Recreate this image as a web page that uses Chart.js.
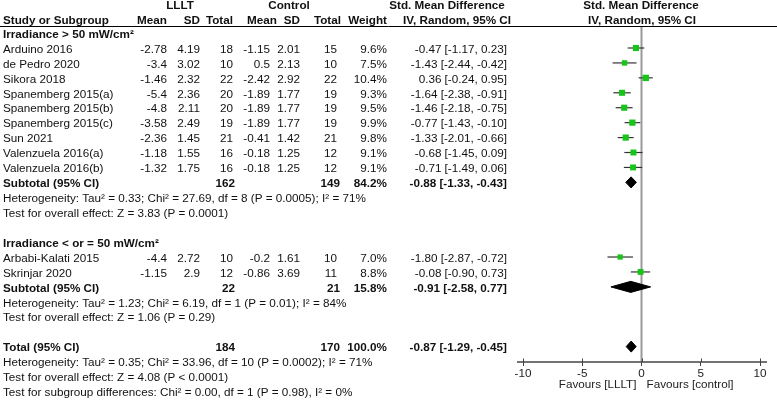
<!DOCTYPE html>
<html>
<head>
<meta charset="utf-8">
<script src="https://cdn.jsdelivr.net/npm/chart.js@4.4.0/dist/chart.umd.min.js"></script>
<style>
html, body { margin: 0; padding: 0; background: #fff; }
</style>
</head>
<body>
<canvas id="forest" width="777" height="400"></canvas>
<script>
// study level data
const studies = ['Arduino 2016', 'de Pedro 2020', 'Sikora 2018', 'Spanemberg 2015(a)', 'Spanemberg 2015(b)',
    'Spanemberg 2015(c)', 'Sun 2021', 'Valenzuela 2016(a)', 'Valenzuela 2016(b)', 'Arbabi-Kalati 2015', 'Skrinjar 2020'];
const studyRows = [0, 1, 2, 3, 4, 5, 6, 7, 8, 14, 15];
const llltMean = ['-2.78', '-3.4', '-1.46', '-5.4', '-4.8', '-3.58', '-2.36', '-1.18', '-1.32', '-4.4', '-1.15'];
const llltSD = ['4.19', '3.02', '2.32', '2.36', '2.11', '2.49', '1.45', '1.55', '1.75', '2.72', '2.9'];
const llltN = [18, 10, 22, 20, 20, 19, 21, 16, 16, 10, 12];
const ctrlMean = ['-1.15', '0.5', '-2.42', '-1.89', '-1.89', '-1.89', '-0.41', '-0.18', '-0.18', '-0.2', '-0.86'];
const ctrlSD = ['2.01', '2.13', '2.92', '1.77', '1.77', '1.77', '1.42', '1.25', '1.25', '1.61', '3.69'];
const ctrlN = [15, 10, 22, 19, 19, 19, 21, 12, 12, 10, 11];
const weights = [9.6, 7.5, 10.4, 9.3, 9.5, 9.9, 9.8, 9.1, 9.1, 7.0, 8.8];
const smd = [-0.47, -1.43, 0.36, -1.64, -1.46, -0.77, -1.33, -0.68, -0.71, -1.80, -0.08];
const ciLow = [-1.17, -2.44, -0.24, -2.38, -2.18, -1.43, -2.01, -1.45, -1.49, -2.87, -0.90];
const ciHigh = [0.23, -0.42, 0.95, -0.91, -0.75, -0.10, -0.66, 0.09, 0.06, -0.72, 0.73];

// pooled rows: subgroup 1, subgroup 2, overall
const poolLabels = ['Subtotal (95% CI)', 'Subtotal (95% CI)', 'Total (95% CI)'];
const poolRows = [9, 16, 20];
const poolLlltN = [162, 22, 184];
const poolCtrlN = [149, 21, 170];
const poolWeight = [84.2, 15.8, 100.0];
const poolSmd = [-0.88, -0.91, -0.87];
const poolLow = [-1.33, -2.58, -1.29];
const poolHigh = [-0.43, 0.77, -0.45];
const tau2 = ['0.33', '1.23', '0.35'];
const chi2 = ['27.69', '6.19', '33.96'];
const dfs = [8, 1, 10];
const pHet = ['0.0005', '0.01', '0.0002'];
const i2 = [71, 84, 71];
const zVal = ['3.83', '1.06', '4.08'];
const pZ = ['= 0.0001', '= 0.29', '< 0.0001'];

const groups = ['Irradiance > 50 mW/cm²', 'Irradiance < or = 50 mW/cm²'];
const groupRows = [-1, 13];
const subgroupTest = 'Test for subgroup differences: Chi² = 0.00, df = 1 (P = 0.98), I² = 0%';

const xTicks = [-10, -5, 0, 5, 10];

const FONT = '"Liberation Sans", Arial, sans-serif';
const FS = 11.7;

function fmt(v) { return v.toFixed(2); }
function ciText(e, l, h) { return fmt(e) + ' [' + fmt(l) + ', ' + fmt(h) + ']'; }

const datasets = [];
// squares on top
datasets.push({
    data: studies.map((s, i) => ({ x: smd[i], y: studyRows[i] })),
    pointStyle: 'rect',
    pointRadius: weights.map(w => Math.sqrt(w) * 1.4),
    backgroundColor: '#19c419',
    borderWidth: 0
});
// diamonds
poolRows.forEach((r, i) => {
    const h = 0.37;
    datasets.push({
        data: [{ x: poolLow[i], y: r }, { x: poolSmd[i], y: r - h }, { x: poolHigh[i], y: r },
            { x: poolSmd[i], y: r + h }, { x: poolLow[i], y: r }],
        showLine: true,
        fill: 'shape',
        backgroundColor: '#000',
        borderColor: '#000',
        borderWidth: 1,
        pointRadius: 0,
        tension: 0
    });
});
// confidence interval whiskers
studies.forEach((s, i) => {
    datasets.push({
        data: [{ x: ciLow[i], y: studyRows[i] }, { x: ciHigh[i], y: studyRows[i] }],
        showLine: true,
        borderColor: '#333',
        borderWidth: 1.2,
        pointRadius: 0
    });
});

const tablePlugin = {
    id: 'tablePlugin',
    beforeDatasetsDraw(chart) {
        const { ctx, chartArea, scales: { x } } = chart;
        const x0 = x.getPixelForValue(0);
        ctx.save();
        ctx.strokeStyle = '#999';
        ctx.lineWidth = 2;
        ctx.beginPath();
        ctx.moveTo(x0, chartArea.top);
        ctx.lineTo(x0, chartArea.bottom);
        ctx.stroke();
        ctx.restore();
    },
    afterDraw(chart) {
        const { ctx, chartArea, scales: { x, y } } = chart;
        const rowY = r => y.getPixelForValue(r) + 1.5;
        function txt(s, px, py, align, bold) {
            ctx.font = (bold ? 'bold ' : '') + FS + 'px ' + FONT;
            ctx.textAlign = align || 'left';
            ctx.fillText(s, px, py);
        }
        ctx.save();
        ctx.fillStyle = '#111';
        ctx.textBaseline = 'middle';

        // column right edges
        const cLM = 167, cLS = 200, cLN = 233, cCM = 270, cCS = 300, cCN = 337, cW = 387, cCI = 507;

        // header
        txt('LLLT', 180, 6, 'center', true);
        txt('Control', 289, 6, 'center', true);
        txt('Std. Mean Difference', 447, 6, 'center', true);
        txt('Std. Mean Difference', 641, 6, 'center', true);
        txt('Study or Subgroup', 3, 20.5, 'left', true);
        txt('Mean', cLM, 20.5, 'right', true);
        txt('SD', cLS, 20.5, 'right', true);
        txt('Total', cLN, 20.5, 'right', true);
        txt('Mean', 277, 20.5, 'right', true);
        txt('SD', cCS, 20.5, 'right', true);
        txt('Total', 341, 20.5, 'right', true);
        txt('Weight', cW, 20.5, 'right', true);
        txt('IV, Random, 95% CI', 457, 20.5, 'center', true);
        txt('IV, Random, 95% CI', 642, 20.5, 'center', true);

        ctx.strokeStyle = '#000';
        ctx.lineWidth = 1;
        ctx.beginPath();
        ctx.moveTo(0, 26.5);
        ctx.lineTo(777, 26.5);
        ctx.stroke();

        groups.forEach((g, i) => txt(g, 3, rowY(groupRows[i]), 'left', true));

        studies.forEach((s, i) => {
            const py = rowY(studyRows[i]);
            txt(s, 3, py);
            txt(llltMean[i], cLM, py, 'right');
            txt(llltSD[i], cLS, py, 'right');
            txt(String(llltN[i]), cLN, py, 'right');
            txt(ctrlMean[i], cCM, py, 'right');
            txt(ctrlSD[i], cCS, py, 'right');
            txt(String(ctrlN[i]), cCN, py, 'right');
            txt(weights[i].toFixed(1) + '%', cW, py, 'right');
            txt(ciText(smd[i], ciLow[i], ciHigh[i]), cCI, py, 'right');
        });

        poolRows.forEach((r, i) => {
            const py = rowY(r);
            txt(poolLabels[i], 3, py, 'left', true);
            txt(String(poolLlltN[i]), cLN + 2, py, 'right', true);
            txt(String(poolCtrlN[i]), cCN + 3, py, 'right', true);
            txt(poolWeight[i].toFixed(1) + '%', cW, py, 'right', true);
            txt(ciText(poolSmd[i], poolLow[i], poolHigh[i]), cCI, py, 'right', true);
            txt('Heterogeneity: Tau² = ' + tau2[i] + '; Chi² = ' + chi2[i] + ', df = ' + dfs[i] +
                ' (P = ' + pHet[i] + '); I² = ' + i2[i] + '%', 3, rowY(r + 1));
            txt('Test for overall effect: Z = ' + zVal[i] + ' (P ' + pZ[i] + ')', 3, rowY(r + 2));
        });
        txt(subgroupTest, 3, rowY(23));

        // axis line, slightly longer than the scale, ticks crossing it
        const yb = chartArea.bottom;
        ctx.strokeStyle = '#444';
        ctx.lineWidth = 1.5;
        ctx.beginPath();
        ctx.moveTo(x.getPixelForValue(-10) - 6, yb);
        ctx.lineTo(x.getPixelForValue(10) + 7, yb);
        ctx.stroke();
        ctx.lineWidth = 1;
        xTicks.forEach(t => {
            const px = Math.round(x.getPixelForValue(t)) + 0.5;
            ctx.beginPath();
            ctx.moveTo(px, yb - 3.5);
            ctx.lineTo(px, yb);
            ctx.stroke();
        });

        const x0 = x.getPixelForValue(0);
        ctx.fillStyle = '#222';
        txt('Favours [LLLT]', x0 - 5, 385, 'right');
        txt('Favours [control]', x0 + 5, 385, 'left');
        ctx.restore();
    }
};

new Chart(document.getElementById('forest'), {
    type: 'scatter',
    data: { datasets: datasets },
    options: {
        responsive: false,
        devicePixelRatio: 1,
        animation: false,
        layout: { padding: { left: 523, right: 17, top: 26, bottom: 0 } },
        plugins: { legend: { display: false }, tooltip: { enabled: false } },
        scales: {
            x: {
                type: 'linear',
                min: -10,
                max: 10,
                afterBuildTicks: s => { s.ticks = xTicks.map(v => ({ value: v })); },
                afterFit: s => { s.height = 38; },
                border: { display: false },
                grid: { drawOnChartArea: false, drawTicks: true, tickLength: 4, color: '#444' },
                ticks: { padding: 1, color: '#222', font: { family: FONT, size: FS } }
            },
            y: {
                type: 'linear',
                display: false,
                reverse: true,
                min: (26 - 48) / 14.93,
                max: (362 - 48) / 14.93
            }
        }
    },
    plugins: [tablePlugin]
});
</script>
</body>
</html>
